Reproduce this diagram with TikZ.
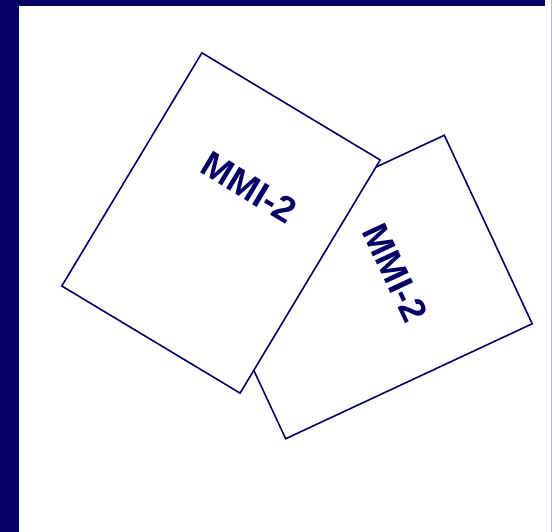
\documentclass[tikz,border=0pt]{standalone}
\usepackage{fontspec}
\setsansfont{Liberation Sans}
\usepackage{tikz}
\usetikzlibrary{calc}
\definecolor{navy}{HTML}{050066}
\definecolor{edgegray}{HTML}{B4B4CC}
\tikzset{
  mmibox/.style={draw=navy, fill=white, line width=1.6pt, rectangle,
    minimum width=208pt, minimum height=272pt, inner sep=0pt},
  mmilabel/.style={font=\sffamily\bfseries\fontsize{36.5}{42}\selectfont,
    text=navy, inner sep=0pt},
  bar/.style={fill=navy, draw=none},
}
\begin{document}
\begin{tikzpicture}[x=1pt,y=1pt]
  \useasboundingbox (0,0) rectangle (552,532);
  % frame bars
  \fill[bar] (0,0) rectangle (19,532);
  \fill[bar] (0,526) rectangle (545,532);
  \draw[edgegray, line width=1pt] (551,0) -- (551,532);
  % the two blocks, second one behind
  \node[mmibox, rotate=-65] (mmib) at (365,245) {};
  \node[mmibox, rotate=-31] (mmia) at (221,309) {};
  \node[mmilabel, rotate=-31] (mmiatext) at ($(mmia.center)!0.35!(mmia.north)!0.06!(mmia.east)$) {MMI-2};
  \node[mmilabel, rotate=-65] (mmibtext) at ($(mmib.center)!0.245!(mmib.north)$) {MMI-2};
\end{tikzpicture}
\end{document}
